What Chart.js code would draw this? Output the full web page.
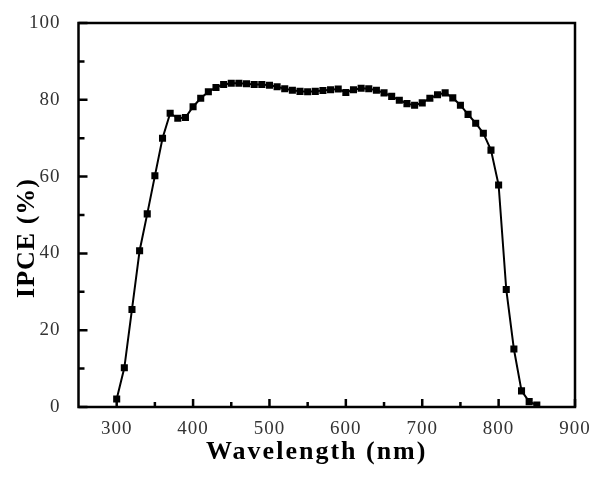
<!DOCTYPE html>
<html>
<head>
<meta charset="utf-8">
<script src="https://cdn.jsdelivr.net/npm/chart.js@4.4.1/dist/chart.umd.min.js"></script>
<style>
  html, body { margin: 0; padding: 0; background: #fff; }
  #wrap { width: 594px; height: 479px; }
</style>
</head>
<body>
<div id="wrap"><canvas id="myChart" width="594" height="479"></canvas></div>
<script>
// wavelength (nm) and IPCE (%)
const wavelength = [300, 310, 320, 330, 340, 350, 360, 370, 380, 390,
  400, 410, 420, 430, 440, 450, 460, 470, 480, 490,
  500, 510, 520, 530, 540, 550, 560, 570, 580, 590,
  600, 610, 620, 630, 640, 650, 660, 670, 680, 690,
  700, 710, 720, 730, 740, 750, 760, 770, 780, 790,
  800, 810, 820, 830, 840, 850];
const ipce = [2.1, 10.2, 25.4, 40.7, 50.3, 60.2, 70.0, 76.5, 75.2, 75.4,
  78.2, 80.4, 82.1, 83.2, 84.0, 84.3, 84.3, 84.2, 84.0, 84.0,
  83.8, 83.4, 82.9, 82.5, 82.2, 82.1, 82.2, 82.4, 82.6, 82.8,
  81.9, 82.6, 83.0, 82.9, 82.5, 81.8, 80.9, 79.9, 79.0, 78.6,
  79.2, 80.4, 81.3, 81.8, 80.5, 78.6, 76.2, 73.9, 71.3, 66.9,
  57.8, 30.6, 15.1, 4.2, 1.4, 0.5];

const xTicks = [300, 400, 500, 600, 700, 800, 900];
const xMinor = [350, 450, 550, 650, 750, 850];
const yTicks = [0, 20, 40, 60, 80, 100];
const yMinor = [10, 30, 50, 70, 90];

const points = wavelength.map((w, i) => ({ x: w, y: ipce[i] }));

// frame, inward ticks and axis titles
const framePlugin = {
  id: 'frame',
  beforeDraw(chart) {
    chart.ctx.letterSpacing = '1px';
  },
  afterDraw(chart) {
    const ctx = chart.ctx;
    const a = chart.chartArea;
    const xs = chart.scales.x, ys = chart.scales.y;
    ctx.save();
    ctx.strokeStyle = '#000';
    ctx.lineWidth = 2.5;
    ctx.strokeRect(a.left, a.top, a.right - a.left, a.bottom - a.top);
    ctx.lineWidth = 2.5;
    ctx.beginPath();
    for (const v of xTicks) {
      const p = xs.getPixelForValue(v);
      ctx.moveTo(p, a.bottom);
      ctx.lineTo(p, a.bottom - 8);
    }
    for (const v of xMinor) {
      const p = xs.getPixelForValue(v);
      ctx.moveTo(p, a.bottom);
      ctx.lineTo(p, a.bottom - 5);
    }
    for (const v of yTicks) {
      const p = ys.getPixelForValue(v);
      ctx.moveTo(a.left, p);
      ctx.lineTo(a.left + 9, p);
    }
    for (const v of yMinor) {
      const p = ys.getPixelForValue(v);
      ctx.moveTo(a.left, p);
      ctx.lineTo(a.left + 6, p);
    }
    ctx.stroke();

    ctx.fillStyle = '#000';
    ctx.font = 'bold 26px "Liberation Serif", "Times New Roman", serif';
    ctx.letterSpacing = '2px';
    ctx.textAlign = 'center';
    ctx.textBaseline = 'middle';
    ctx.fillText('Wavelength (nm)', (a.left + a.right) / 2 - 10, 452);
    ctx.translate(27, 238);
    ctx.rotate(-Math.PI / 2);
    ctx.letterSpacing = '1px';
    ctx.fillText('IPCE (%)', 0, 0);
    ctx.restore();
  }
};

const config = {
  type: 'line',
  data: {
    datasets: [{
      data: points,
      borderColor: '#000',
      backgroundColor: '#000',
      borderWidth: 2,
      pointStyle: 'rect',
      pointRadius: 5,
      pointBorderWidth: 0,
      tension: 0
    }]
  },
  options: {
    responsive: false,
    animation: false,
    layout: { padding: { top: 23, right: 19, left: 0, bottom: 0 } },
    plugins: { legend: { display: false }, tooltip: { enabled: false } },
    scales: {
      x: {
        type: 'linear',
        min: 250, max: 900,
        afterBuildTicks: s => { s.ticks = xTicks.map(v => ({ value: v })); },
        afterFit: s => { s.height = 72; },
        grid: { display: false },
        border: { display: false },
        ticks: {
          padding: 3,
          maxRotation: 0,
          color: '#333',
          font: { family: '"Liberation Serif", "Times New Roman", serif', size: 19 }
        }
      },
      y: {
        min: 0, max: 100,
        afterBuildTicks: s => { s.ticks = yTicks.map(v => ({ value: v })); },
        afterFit: s => { s.width = 78.5; },
        grid: { display: false },
        border: { display: false },
        ticks: {
          padding: 10,
          color: '#333',
          font: { family: '"Liberation Serif", "Times New Roman", serif', size: 19 }
        }
      }
    }
  },
  plugins: [framePlugin]
};

const myChart = new Chart(document.getElementById('myChart'), config);
</script>
</body>
</html>
